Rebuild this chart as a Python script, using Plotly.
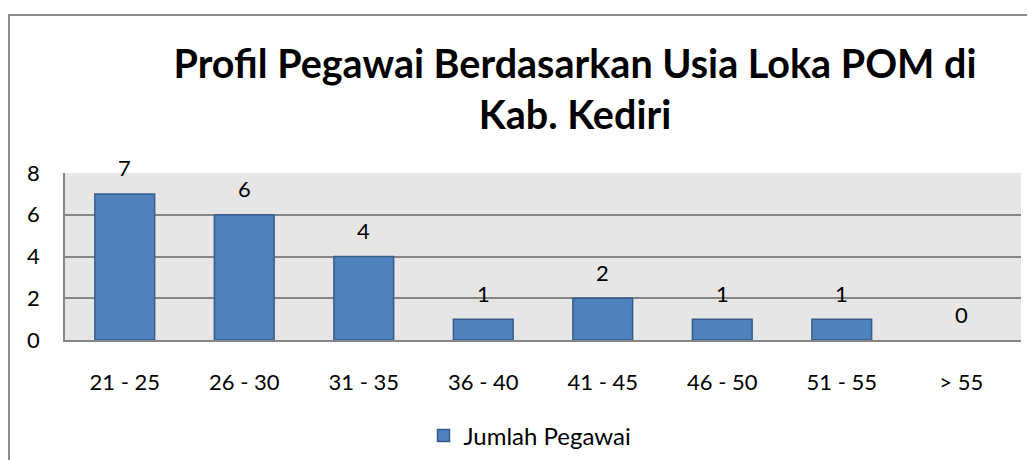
import plotly.graph_objects as go

categories = ["21 - 25", "26 - 30", "31 - 35", "36 - 40", "41 - 45", "46 - 50", "51 - 55", "> 55"]
values = [7, 6, 4, 1, 2, 1, 1, 0]
series_name = "Jumlah Pegawai"
title_text = "Profil Pegawai Berdasarkan Usia Loka POM di<br>Kab. Kediri"

OFF = 8  # default page body margin
W, H = 1035 - OFF, 460 - OFF
L, R, T, B = 57, 14, 165, 120
pw, ph = W - L - R, H - T - B

def px_x(px):
    return (px - OFF - L) / pw

def px_y(py):
    return (H - B - (py - OFF)) / ph

font_family = "Lato, 'Open Sans', sans-serif"

fig = go.Figure()
fig.add_trace(go.Bar(
    x=categories, y=values, name=series_name,
    marker=dict(color="#4f81bd",
                line=dict(color="#385d8a", width=[1.5 if v > 0 else 0 for v in values])),
    showlegend=True,
))

# data labels above bars
for c, v in zip(categories, values):
    fig.add_annotation(x=c, y=v, xref="x", yref="y", text=str(v), showarrow=False,
                       yanchor="middle", yshift=26,
                       font=dict(size=22, color="black", family=font_family))

fig.update_layout(
    width=W, height=H,
    margin=dict(l=L, r=R, t=T, b=B, autoexpand=False),
    paper_bgcolor="white", plot_bgcolor="#e6e6e6",
    bargap=0.5,
    font=dict(family=font_family, color="black"),
    title=dict(text="<b>" + title_text + "</b>", x=px_x(575), xref="paper",
               y=1 - (78 - OFF) / H, yref="container", xanchor="center", yanchor="middle",
               font=dict(size=39.5, family=font_family, color="black")),
    showlegend=True,
    legend=dict(orientation="h", x=px_x(530), xanchor="center", y=px_y(436), yanchor="middle",
                font=dict(size=24, family=font_family), bgcolor="rgba(0,0,0,0)"),
)
fig.update_yaxes(range=[0, 8], dtick=2, showgrid=True, gridcolor="#868686", gridwidth=1.5,
                 showline=True, linecolor="#868686", linewidth=1.5, zeroline=False,
                 tickfont=dict(size=22), ticks="", ticklabelstandoff=19, fixedrange=True)
fig.update_xaxes(showgrid=False, showline=True, linecolor="#868686", linewidth=1.5,
                 tickfont=dict(size=22), ticks="", ticklabelstandoff=22)

# outer chart border
fig.add_shape(type="rect", xref="paper", yref="paper",
              x0=px_x(9), x1=px_x(1050), y0=px_y(475), y1=px_y(15),
              line=dict(color="#8c8c8c", width=2), fillcolor="rgba(0,0,0,0)", layer="below")

fig.write_html("out.html")
